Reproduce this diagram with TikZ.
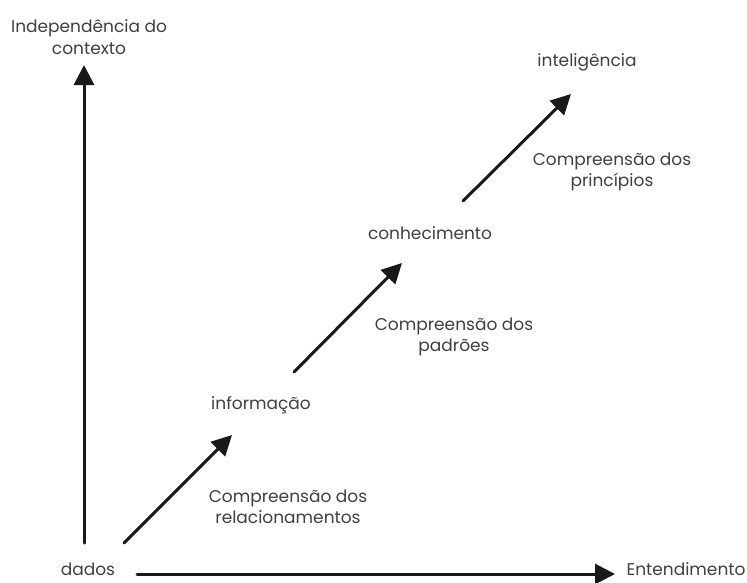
\documentclass[tikz,border=0pt]{standalone}
\usepackage{fontspec}
\setmainfont{Poppins}
\usetikzlibrary{arrows.meta}
\definecolor{txt}{HTML}{404040}
\begin{document}
\begin{tikzpicture}[x=1pt,y=-1pt,
  lbl/.style={text=txt, font=\fontsize{17}{21.5}\selectfont, inner sep=0pt, align=center},
  arr/.style={line width=3pt, draw=black!90, line cap=round,
    -{Triangle[length=20pt,width=20pt]}}]
\useasboundingbox[fill=white] (0,0) rectangle (747,582);

% labels
\node[lbl] (ctx)   at (89,37)   {Independência do\\contexto};
\node[lbl] (dados) at (88,569)  {dados};
\node[lbl] (ent)   at (686,569) {Entendimento};
\node[lbl] (info)  at (261,405) {informação};
\node[lbl] (conh)  at (430,233) {conhecimento};
\node[lbl] (intel) at (587,62)  {inteligência};
\node[lbl] (c1)    at (288,507) {Compreensão dos\\relacionamentos};
\node[lbl] (c2)    at (454,337) {Compreensão dos\\padrões};
\node[lbl] (c3)    at (612,172) {Compreensão dos\\princípios};

% arrow ends
\coordinate (yb) at (84,543);
\coordinate (yt) at (84,65);
\coordinate (xl) at (137,574);
\coordinate (xr) at (615,574);
\coordinate (a1) at (124,543);
\coordinate (b1) at (232,435);
\coordinate (a2) at (294,372);
\coordinate (b2) at (402,263);
\coordinate (a3) at (463,201);
\coordinate (b3) at (571,94);

% axes
\draw[arr] (yb) -- (yt);
\draw[arr] (xl) -- (xr);

% steps
\draw[arr] (a1) -- (b1);
\draw[arr] (a2) -- (b2);
\draw[arr] (a3) -- (b3);
\end{tikzpicture}
\end{document}
